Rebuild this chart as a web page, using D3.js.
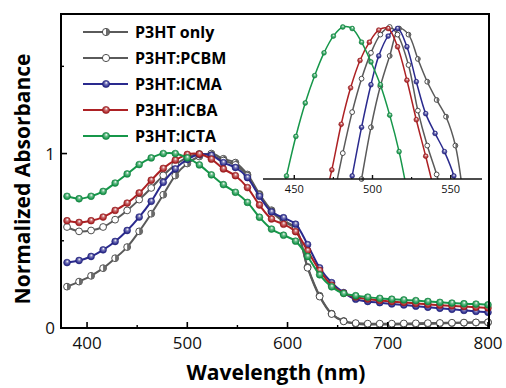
<!DOCTYPE html>
<html>
<head>
<meta charset="utf-8">
<script src="https://cdn.jsdelivr.net/npm/d3@7"></script>
<style>
body { margin:0; background:#fff; }
text { font-family: "Open Sans", "Liberation Sans", sans-serif; }
</style>
</head>
<body>
<div id="chart"></div>
<script>
// main spectra, markers every 12 nm
var wavelengths = [380,392,404,416,428,440,452,464,476,488,500,512,524,536,548,560,572,584,596,608,620,632,644,656,668,680,692,704,716,728,740,752,764,776,788,800];

var p3htOnly = [0.237,0.266,0.299,0.343,0.400,0.464,0.554,0.655,0.764,0.874,0.943,0.983,1.000,0.970,0.948,0.880,0.768,0.675,0.615,0.575,0.350,0.185,0.082,0.040,0.025,0.020,0.020,0.020,0.021,0.022,0.024,0.026,0.028,0.030,0.031,0.032];
var p3htPcbm = [0.579,0.554,0.559,0.579,0.621,0.674,0.736,0.803,0.875,0.935,0.978,0.998,0.990,0.960,0.935,0.872,0.762,0.668,0.610,0.570,0.345,0.180,0.080,0.038,0.028,0.025,0.025,0.025,0.026,0.027,0.028,0.029,0.030,0.031,0.032,0.033];
var p3htIcma = [0.375,0.387,0.410,0.448,0.496,0.559,0.636,0.726,0.835,0.912,0.966,0.994,0.990,0.948,0.920,0.862,0.755,0.665,0.632,0.595,0.478,0.345,0.260,0.203,0.165,0.152,0.145,0.138,0.132,0.125,0.119,0.113,0.107,0.101,0.095,0.090];
var p3htIcba = [0.615,0.605,0.615,0.636,0.674,0.716,0.774,0.847,0.915,0.962,0.995,0.997,0.968,0.912,0.873,0.805,0.705,0.625,0.595,0.552,0.443,0.330,0.245,0.200,0.178,0.166,0.158,0.152,0.146,0.141,0.136,0.131,0.127,0.123,0.119,0.115];
var p3htIcta = [0.755,0.741,0.755,0.783,0.831,0.883,0.937,0.975,1.000,1.000,0.975,0.935,0.878,0.822,0.778,0.720,0.635,0.567,0.532,0.498,0.410,0.305,0.236,0.198,0.185,0.177,0.170,0.165,0.161,0.157,0.152,0.147,0.143,0.139,0.137,0.133];

// inset: peak region, markers every 6 nm
var insetWlOnly = [487,493,499,505,511,517,523,529,535,541,547,553,559];
var insetOnly   = [0.865,0.900,0.934,0.961,0.981,0.999,0.995,0.979,0.964,0.952,0.941,0.922,0.880];
var insetWlPcbm = [475,481,487,493,499,505,511,516,523,529,535,541,547];
var insetPcbm   = [0.887,0.917,0.944,0.966,0.983,0.995,1.000,0.995,0.975,0.945,0.922,0.903,0.880];
var insetWlIcma = [481,487,493,499,504,510,516,522,528,534,540,546,552,558];
var insetIcma   = [0.870,0.902,0.934,0.962,0.981,0.994,0.999,0.987,0.964,0.943,0.930,0.918,0.902,0.870];
var insetWlIcba = [468,474,480,486,492,498,504,510,516,522,528,534,540];
var insetIcba   = [0.880,0.906,0.936,0.960,0.978,0.990,0.998,0.999,0.987,0.965,0.939,0.915,0.890];
var insetWlIcta = [439,445,451,457,463,469,475,481,487,493,499,505,511,517,523];
var insetIcta   = [0.875,0.902,0.928,0.950,0.968,0.983,0.994,1.000,0.999,0.990,0.977,0.962,0.942,0.918,0.887];

var names = ["P3HT only","P3HT:PCBM","P3HT:ICMA","P3HT:ICBA","P3HT:ICTA"];
var xTicks = [400,500,600,700,800];
var yTicks = [0,1];
var insetTicks = [450,500,550];

var series = [
  {name:names[0], vals:p3htOnly, iw:insetWlOnly, iv:insetOnly, color:"#5a5a5a", kind:"half"},
  {name:names[1], vals:p3htPcbm, iw:insetWlPcbm, iv:insetPcbm, color:"#5a5a5a", kind:"open"},
  {name:names[2], vals:p3htIcma, iw:insetWlIcma, iv:insetIcma, color:"#2a2a8e", kind:"ball"},
  {name:names[3], vals:p3htIcba, iw:insetWlIcba, iv:insetIcba, color:"#ad2124", kind:"ball"},
  {name:names[4], vals:p3htIcta, iw:insetWlIcta, iv:insetIcta, color:"#16974a", kind:"ball"}
];

var W = 506, H = 388;
var svg = d3.select('#chart').append('svg').attr('width',W).attr('height',H);
var defs = svg.append('defs');

series.forEach(function(s,i){
  if (s.kind=="ball"){
    var g = defs.append('radialGradient').attr('id','ball'+i)
      .attr('cx','0.5').attr('cy','0.5').attr('r','0.6').attr('fx','0.55').attr('fy','0.3');
    g.append('stop').attr('offset','0%').attr('stop-color','#ffffff');
    g.append('stop').attr('offset','35%').attr('stop-color',d3.interpolateRgb(s.color,'#fff')(0.35));
    g.append('stop').attr('offset','75%').attr('stop-color',s.color);
    g.append('stop').attr('offset','100%').attr('stop-color',d3.color(s.color).darker(0.6));
  }
});

var x = d3.scaleLinear().domain([375,800]).range([62,488]);
var y = d3.scaleLinear().domain([0,1.8]).range([328,14]);

function drawMarker(sel, s, i, r){
  if (s.kind=="ball"){
    sel.append('circle').attr('r',r).attr('fill','url(#ball'+i+')')
      .attr('stroke',d3.color(s.color).darker(0.5)).attr('stroke-width',0.6);
  } else if (s.kind=="open"){
    sel.append('circle').attr('r',r).attr('fill','#fff')
      .attr('stroke','#3a3a3a').attr('stroke-width',0.9);
  } else {
    sel.append('circle').attr('r',r).attr('fill','#fff')
      .attr('stroke','#3a3a3a').attr('stroke-width',0.9);
    sel.append('path')
      .attr('d','M0,'+(-r)+' A'+r+','+r+' 0 0,1 0,'+r+' Z')
      .attr('fill','#6a6a6a');
  }
}

// main curves
var line = d3.line().curve(d3.curveCatmullRom.alpha(0.5))
  .x(function(d){return x(d[0]);}).y(function(d){return y(d[1]);});

series.forEach(function(s,i){
  var pts = wavelengths.map(function(w,k){return [w,s.vals[k]];});
  svg.append('path').attr('d',line(pts)).attr('fill','none')
    .attr('stroke',s.color).attr('stroke-width',2);
  svg.append('g').selectAll('g').data(pts).enter().append('g')
    .attr('transform',function(d){return 'translate('+x(d[0])+','+y(d[1])+')';})
    .each(function(){ drawMarker(d3.select(this), s, i, 3.4); });
});

// frame
svg.append('rect').attr('x',61).attr('y',14).attr('width',428).attr('height',314)
  .attr('fill','none').attr('stroke','#000').attr('stroke-width',2);

// x ticks
var xMinor = [450,550,650,750];
svg.selectAll('.xt').data(xTicks).enter().append('line')
  .attr('x1',function(d){return x(d);}).attr('x2',function(d){return x(d);})
  .attr('y1',328).attr('y2',322).attr('stroke','#000').attr('stroke-width',1.6);
svg.selectAll('.xm').data(xMinor).enter().append('line')
  .attr('x1',function(d){return x(d);}).attr('x2',function(d){return x(d);})
  .attr('y1',328).attr('y2',325).attr('stroke','#000').attr('stroke-width',1.4);
svg.selectAll('.xl').data(xTicks).enter().append('text')
  .attr('x',function(d){return x(d);}).attr('y',349).attr('text-anchor','middle')
  .attr('font-size',17).attr('fill','#111').text(function(d){return d;});

// y ticks
var yMinor = [0.5,1.5];
svg.selectAll('.yt').data(yTicks).enter().append('line')
  .attr('x1',61).attr('x2',67).attr('y1',function(d){return y(d);}).attr('y2',function(d){return y(d);})
  .attr('stroke','#000').attr('stroke-width',1.6);
svg.selectAll('.ym').data(yMinor).enter().append('line')
  .attr('x1',61).attr('x2',64).attr('y1',function(d){return y(d);}).attr('y2',function(d){return y(d);})
  .attr('stroke','#000').attr('stroke-width',1.4);
svg.selectAll('.yl').data(yTicks).enter().append('text')
  .attr('x',55).attr('y',function(d){return y(d)+6;}).attr('text-anchor','end')
  .attr('font-size',17).attr('fill','#111').text(function(d){return d;});

// axis titles
svg.append('text').attr('x',276).attr('y',380).attr('text-anchor','middle')
  .attr('font-size',21).attr('font-weight','bold').text('Wavelength (nm)');
svg.append('text').attr('transform','translate(30,179) rotate(-90)').attr('text-anchor','middle')
  .attr('font-size',21).attr('font-weight','bold').text('Normalized Absorbance');

// legend
var legend = svg.append('g');
series.forEach(function(s,i){
  var ly = 32 + i*26;
  legend.append('line').attr('x1',83).attr('x2',128).attr('y1',ly).attr('y2',ly)
    .attr('stroke',s.color).attr('stroke-width',2);
  drawMarker(legend.append('g').attr('transform','translate(106,'+ly+')'), s, i, 3.6);
  legend.append('text').attr('x',135).attr('y',ly+6).attr('font-size',16)
    .attr('font-weight','bold').text(s.name);
});

// inset
var ix = d3.scaleLinear().domain([430,570]).range([263,482]);
var iy = d3.scaleLinear().domain([0.9,1.0]).range([179,27]);
defs.append('clipPath').attr('id','insetClip').append('rect')
  .attr('x',263).attr('y',14).attr('width',219).attr('height',165);
var inset = svg.append('g');
var iline = d3.line().curve(d3.curveCatmullRom.alpha(0.5))
  .x(function(d){return ix(d[0]);}).y(function(d){return iy(d[1]);});
series.forEach(function(s,i){
  var pts = s.iw.map(function(w,k){return [w,s.iv[k]];});
  inset.append('path').attr('d',iline(pts)).attr('fill','none')
    .attr('clip-path','url(#insetClip)')
    .attr('stroke',s.color).attr('stroke-width',1.5);
  inset.append('g').selectAll('g').data(pts.filter(function(d){return d[1]>=0.899;})).enter().append('g')
    .attr('transform',function(d){return 'translate('+ix(d[0])+','+iy(d[1])+')';})
    .each(function(){ drawMarker(d3.select(this), s, i, 2.4); });
});
inset.append('line').attr('x1',263).attr('x2',482).attr('y1',179).attr('y2',179)
  .attr('stroke','#111').attr('stroke-width',1.6);
var insetMinor = [475,525];
inset.selectAll('.it').data(insetTicks).enter().append('line')
  .attr('x1',function(d){return ix(d);}).attr('x2',function(d){return ix(d);})
  .attr('y1',179).attr('y2',175).attr('stroke','#111').attr('stroke-width',1.4);
inset.selectAll('.im').data(insetMinor).enter().append('line')
  .attr('x1',function(d){return ix(d);}).attr('x2',function(d){return ix(d);})
  .attr('y1',179).attr('y2',177).attr('stroke','#111').attr('stroke-width',1.2);
inset.selectAll('.il').data(insetTicks).enter().append('text')
  .attr('x',function(d){return ix(d);}).attr('y',193).attr('text-anchor','middle')
  .attr('font-size',11).attr('fill','#111').text(function(d){return d;});
</script>
</body>
</html>
